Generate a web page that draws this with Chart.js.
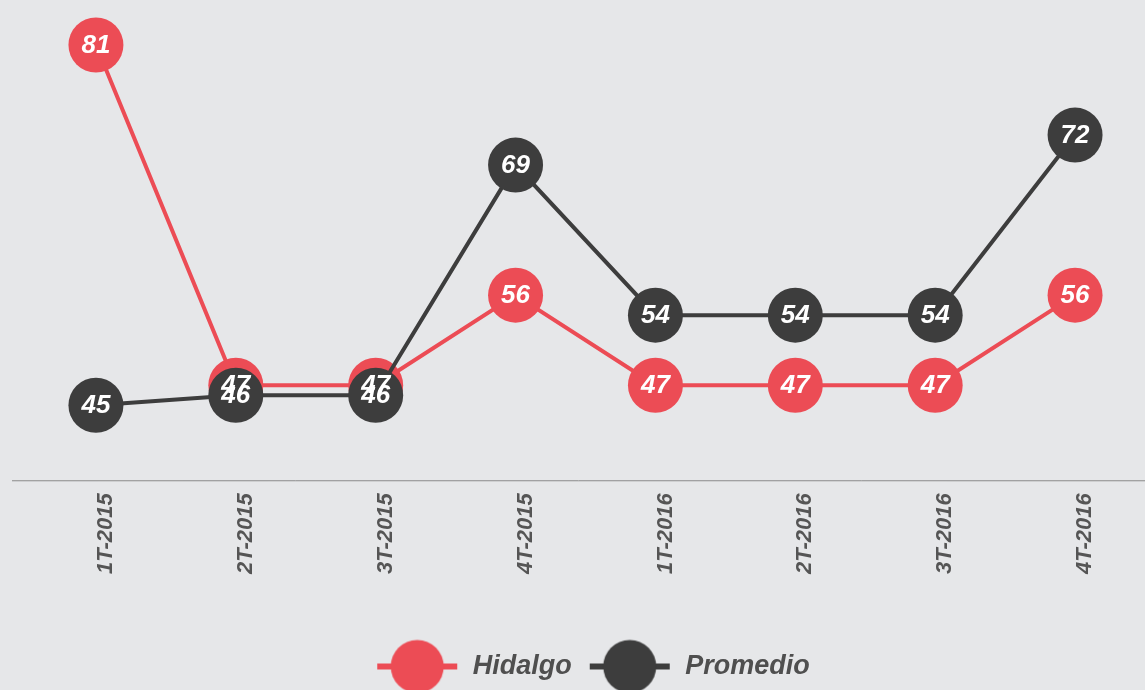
<!DOCTYPE html>
<html>
<head>
    <script src="https://cdn.jsdelivr.net/npm/chart.js@4.4.0/dist/chart.umd.min.js"></script>
    <style>
        body { margin: 0; background: #e6e7e9; }
        #wrap { width: 1145px; height: 690px; }
    </style>
</head>
<body>
<div id="wrap">
    <canvas id="myChart"></canvas>
</div>

<script>
    const periodos = ["1T-2015", "2T-2015", "3T-2015", "4T-2015", "1T-2016", "2T-2016", "3T-2016", "4T-2016"];
    const hidalgo = [81, 47, 47, 56, 47, 47, 47, 56];
    const promedio = [45, 46, 46, 69, 54, 54, 54, 72];

    const rojo = "#ec4c55";
    const gris = "#3d3d3d";
    const fuente = "'Liberation Sans', Arial, sans-serif";

    // icono de leyenda: linea con circulo
    function iconoLeyenda(color) {
        const c = document.createElement("canvas");
        c.width = 84;
        c.height = 56;
        const ctx = c.getContext("2d");
        ctx.strokeStyle = color;
        ctx.lineWidth = 6;
        ctx.beginPath();
        ctx.moveTo(2, 28);
        ctx.lineTo(82, 28);
        ctx.stroke();
        ctx.fillStyle = color;
        ctx.beginPath();
        ctx.arc(42, 28, 26.5, 0, Math.PI * 2);
        ctx.fill();
        return c;
    }
    const iconos = [iconoLeyenda(rojo), iconoLeyenda(gris)];

    // numeros blancos sobre cada punto
    const etiquetas = {
        id: "etiquetas",
        afterDatasetsDraw(chart) {
            const ctx = chart.ctx;
            ctx.save();
            ctx.font = "italic bold 26px " + fuente;
            ctx.fillStyle = "#ffffff";
            ctx.textAlign = "center";
            ctx.textBaseline = "middle";
            chart.data.datasets.forEach((ds, i) => {
                const meta = chart.getDatasetMeta(i);
                meta.data.forEach((pt, j) => {
                    ctx.fillText(ds.data[j], pt.x, pt.y + 1);
                });
            });
            ctx.restore();
        }
    };

    // linea del eje x
    const ejeX = {
        id: "ejeX",
        beforeDatasetsDraw(chart) {
            const ctx = chart.ctx;
            const y = chart.chartArea.bottom;
            ctx.save();
            ctx.strokeStyle = "#8a8a8a";
            ctx.lineWidth = 1;
            ctx.beginPath();
            ctx.moveTo(12, y + 0.5);
            ctx.lineTo(chart.width, y + 0.5);
            ctx.stroke();
            ctx.restore();
        }
    };

    // la leyenda va un poco corrida a la derecha
    const moverLeyenda = {
        id: "moverLeyenda",
        afterLayout(chart) {
            chart.legend.left += 7;
            chart.legend.right += 7;
        }
    };

    let myChart = new Chart("myChart", {
        type: "line",
        data: {
            labels: periodos,
            datasets: [{
                label: "Hidalgo",
                data: hidalgo,
                borderColor: rojo,
                backgroundColor: rojo,
                pointBackgroundColor: rojo,
                order: 1
            }, {
                label: "Promedio",
                data: promedio,
                borderColor: gris,
                backgroundColor: gris,
                pointBackgroundColor: gris,
                order: 0
            }]
        },
        options: {
            responsive: true,
            maintainAspectRatio: false,
            animation: false,
            layout: { autoPadding: false, padding: { left: 26, top: 0, right: 0, bottom: 0 } },
            elements: {
                line: { borderWidth: 4, tension: 0 },
                point: { pointStyle: "circle", radius: 27.5, hoverRadius: 27.5, borderWidth: 0 }
            },
            datasets: { line: { clip: false } },
            scales: {
                x: {
                    offset: true,
                    grid: { display: false },
                    border: { display: false },
                    afterFit(scale) {
                        scale.paddingLeft = 0;
                        scale.paddingRight = 0;
                        scale.height += 58;
                    },
                    ticks: {
                        minRotation: 90,
                        maxRotation: 90,
                        padding: 5,
                        labelOffset: 10,
                        color: "#555555",
                        font: { family: fuente, size: 22, style: "italic", weight: "bold" }
                    }
                },
                y: {
                    display: false,
                    min: 37.5,
                    max: 85.5
                }
            },
            plugins: {
                tooltip: { enabled: false },
                legend: {
                    position: "bottom",
                    labels: {
                        usePointStyle: true,
                        pointStyleWidth: 84,
                        padding: 16,
                        color: "#4f4f4f",
                        font: { family: fuente, size: 27, style: "italic", weight: "bold" },
                        generateLabels(chart) {
                            return chart.data.datasets.map((ds, i) => ({
                                text: ds.label,
                                datasetIndex: i,
                                pointStyle: iconos[i],
                                fontColor: "#4f4f4f",
                                lineWidth: 0,
                                hidden: false
                            }));
                        }
                    }
                }
            }
        },
        plugins: [ejeX, etiquetas, moverLeyenda]
    });
</script>
</body>
</html>
